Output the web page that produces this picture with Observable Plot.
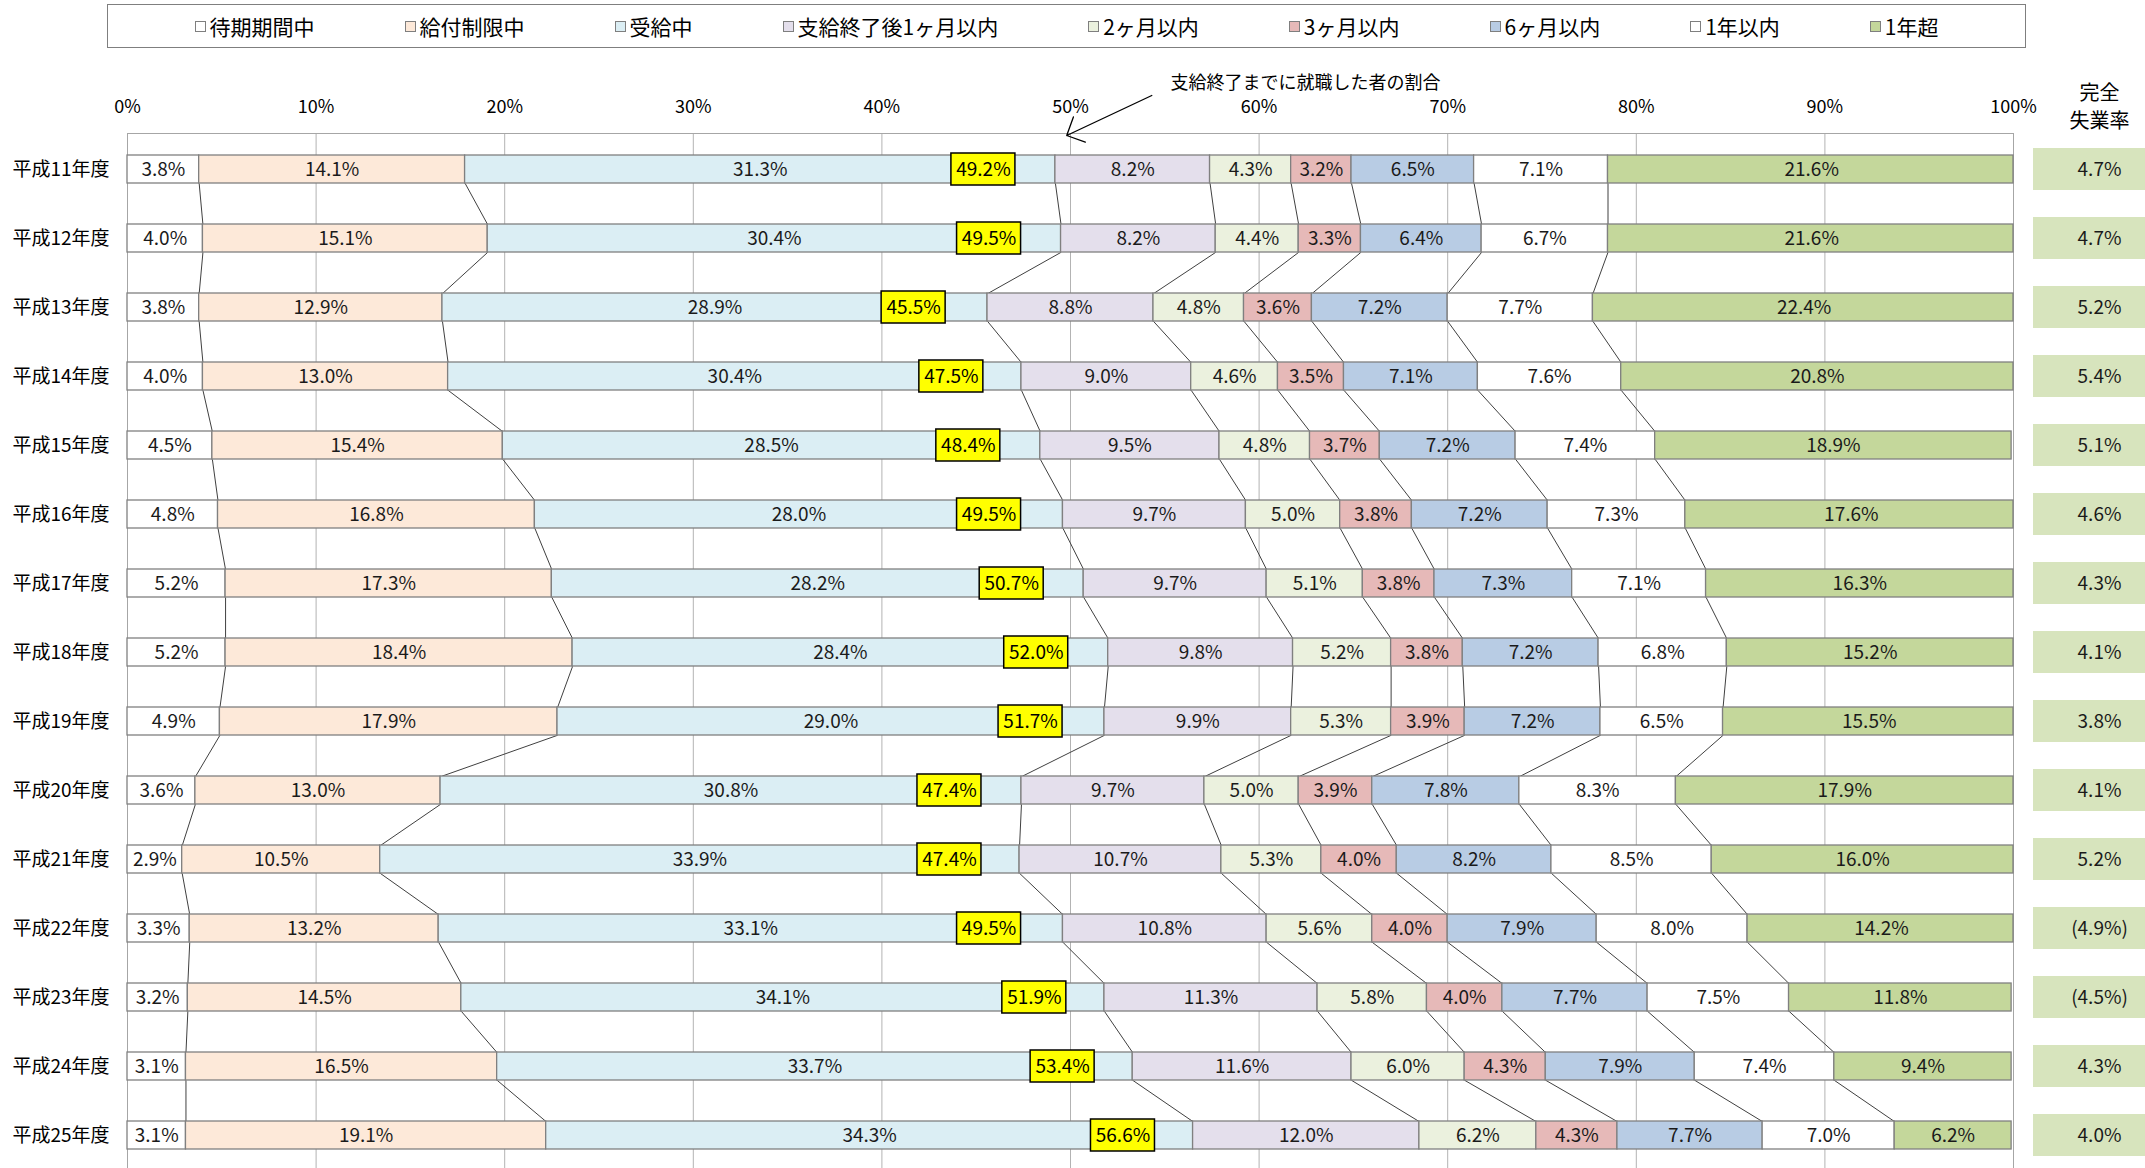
<!DOCTYPE html>
<html>
<head>
<meta charset="utf-8">
<script src="https://cdn.jsdelivr.net/npm/d3@7"></script>
<script src="https://cdn.jsdelivr.net/npm/@observablehq/plot@0.6"></script>
<style>
  html, body { margin: 0; padding: 0; background: #fff; overflow: hidden; }
  body { width: 2145px; height: 1168px; font-family: "Noto Sans CJK JP", sans-serif; color: #000; }
  #legendWrap { position: relative; height: 58px; }
  #legend { position: absolute; left: 107px; top: 4px; width: 1919px; height: 44px; box-sizing: border-box;
            border: 1.5px solid #7f7f7f; display: flex; justify-content: center; align-items: center;
            gap: 90px; font-size: 21px; }
  .item { display: flex; align-items: center; white-space: nowrap; }
  .sw { width: 9px; height: 9px; border: 1px solid #7f7f7f; margin-right: 4px; }
  #chart svg { display: block; }
</style>
</head>
<body>
<div id="legendWrap"><div id="legend"></div></div>
<div id="chart"></div>
<script>
// ---- data ----
const years = ["平成11年度","平成12年度","平成13年度","平成14年度","平成15年度","平成16年度","平成17年度","平成18年度",
               "平成19年度","平成20年度","平成21年度","平成22年度","平成23年度","平成24年度","平成25年度"];
const categories = ["待期期間中","給付制限中","受給中","支給終了後1ヶ月以内","2ヶ月以内","3ヶ月以内","6ヶ月以内","1年以内","1年超"];
const colors = ["#ffffff","#fde9d9","#dbeef4","#e4dfec","#ebf1de","#e6b9b8","#b8cce4","#ffffff","#c4d79b"];

const waiting   = [3.8,4.0,3.8,4.0,4.5,4.8,5.2,5.2,4.9,3.6,2.9,3.3,3.2,3.1,3.1];
const restrict  = [14.1,15.1,12.9,13.0,15.4,16.8,17.3,18.4,17.9,13.0,10.5,13.2,14.5,16.5,19.1];
const receiving = [31.3,30.4,28.9,30.4,28.5,28.0,28.2,28.4,29.0,30.8,33.9,33.1,34.1,33.7,34.3];
const within1m  = [8.2,8.2,8.8,9.0,9.5,9.7,9.7,9.8,9.9,9.7,10.7,10.8,11.3,11.6,12.0];
const within2m  = [4.3,4.4,4.8,4.6,4.8,5.0,5.1,5.2,5.3,5.0,5.3,5.6,5.8,6.0,6.2];
const within3m  = [3.2,3.3,3.6,3.5,3.7,3.8,3.8,3.8,3.9,3.9,4.0,4.0,4.0,4.3,4.3];
const within6m  = [6.5,6.4,7.2,7.1,7.2,7.2,7.3,7.2,7.2,7.8,8.2,7.9,7.7,7.9,7.7];
const within1y  = [7.1,6.7,7.7,7.6,7.4,7.3,7.1,6.8,6.5,8.3,8.5,8.0,7.5,7.4,7.0];
const over1y    = [21.6,21.6,22.4,20.8,18.9,17.6,16.3,15.2,15.5,17.9,16.0,14.2,11.8,9.4,6.2];
const employedByEnd = [49.2,49.5,45.5,47.5,48.4,49.5,50.7,52.0,51.7,47.4,47.4,49.5,51.9,53.4,56.6];
const unemployment  = [4.7,4.7,5.2,5.4,5.1,4.6,4.3,4.1,3.8,4.1,5.2,4.9,4.5,4.3,4.0];
const unemploymentRef = [false,false,false,false,false,false,false,false,false,false,false,true,true,false,false];
const xTicks = [0,10,20,30,40,50,60,70,80,90,100];
const annotationText = "支給終了までに就職した者の割合";
const rateHeader = "完全\n失業率";

const series = [waiting, restrict, receiving, within1m, within2m, within3m, within6m, within1y, over1y];

// ---- tables ----
const table = [];
years.forEach((y, i) => categories.forEach((c, k) => table.push({year: y, category: c, value: series[k][i]})));

const cum = years.map((y, i) => { let s = 0; return series.map(v => (s += v[i])); });
const links = [];
for (let i = 0; i < years.length - 1; i++)
  for (let k = 0; k < categories.length - 1; k++)
    links.push({y1: years[i], y2: years[i + 1], x1: cum[i][k], x2: cum[i + 1][k]});

const employed = years.map((y, i) => ({year: y, value: employedByEnd[i]}));
const rates = years.map((y, i) => ({year: y, label: unemploymentRef[i] ? `(${unemployment[i].toFixed(1)}%)` : `${unemployment[i].toFixed(1)}%`}));

// ---- legend ----
const legend = document.getElementById("legend");
categories.forEach((c, k) => {
  const it = document.createElement("div"); it.className = "item";
  const sw = document.createElement("span"); sw.className = "sw"; sw.style.background = colors[k];
  const tx = document.createElement("span"); tx.textContent = c;
  it.append(sw, tx); legend.append(it);
});

// ---- layout ----
const W = 2145, H = 1112, mTop = 75, mLeft = 127, mRight = 132, padIn = 0.6;
const step = (H - mTop) / years.length;
const half = step * (1 - padIn) / 2;

// series-line curve: from the bottom edge of the upper bar to the top edge of the lower bar
const seriesCurve = (ctx) => {
  let n = 0;
  return {
    areaStart() {}, areaEnd() {},
    lineStart() { n = 0; },
    lineEnd() {},
    point(x, y) { if (n++ === 0) ctx.moveTo(x, y + half); else ctx.lineTo(x, y - half); }
  };
};

const chart = Plot.plot({
  width: W, height: H,
  marginTop: mTop, marginLeft: mLeft, marginRight: mRight, marginBottom: 0,
  style: {fontFamily: "'Noto Sans CJK JP', sans-serif", fontSize: "19px", color: "#000", background: "#fff", overflow: "visible"},
  x: {domain: [0, 100], clamp: true, axis: null},
  y: {domain: years, paddingInner: padIn, paddingOuter: padIn / 2, axis: null},
  color: {domain: categories, range: colors},
  marks: [
    Plot.gridX(xTicks, {stroke: "#b3b3b3", strokeOpacity: 1}),
    Plot.frame({stroke: "#a6a6a6"}),
    Plot.axisX(xTicks, {anchor: "top", tickSize: 0, tickPadding: 21, tickFormat: d => d + "%", fontSize: 18}),
    Plot.axisY({tickSize: 0, tickPadding: 18, fontSize: 19}),
    Plot.link(links, {x1: "x1", x2: "x2", y1: "y1", y2: "y2", curve: seriesCurve, stroke: "#404040", strokeWidth: 1}),
    Plot.barX(table, Plot.stackX({x: "value", y: "year", fill: "category", stroke: "#808080", strokeWidth: 1.3})),
    Plot.text(table, Plot.stackX({x: "value", y: "year", z: "category", text: d => d.value.toFixed(1) + "%", fill: "#1a1a1a"})),
    Plot.barX(employed, {x1: "value", x2: "value", y: "year", insetLeft: -104, insetRight: 40, insetTop: -2, insetBottom: -2,
                         fill: "#ffff00", stroke: "#000", strokeWidth: 1.5}),
    Plot.text(employed, {x: "value", y: "year", dx: -72, text: d => d.value.toFixed(1) + "%", fill: "#000"}),
    Plot.barX(rates, {x1: () => 100, x2: () => 100, y: "year", insetLeft: 20, insetRight: -132, insetTop: -7, insetBottom: -7, fill: "#d7e4bd"}),
    Plot.text(rates, {x: () => 100, y: "year", dx: 86, text: "label", fill: "#1a1a1a"}),
    Plot.text([rateHeader], {x: () => 100, frameAnchor: "top", dx: 86, dy: -6, lineAnchor: "bottom", lineHeight: 1.4, fontSize: 20, text: d => d}),
    Plot.text([annotationText], {x: () => 62.46, frameAnchor: "top", dy: -57, text: d => d, fontSize: 18}),
    Plot.vector([annotationText], {x: () => 49.8, frameAnchor: "top", dy: 2, length: 94, rotate: 244.8, anchor: "end", r: 2.6, stroke: "#000", strokeWidth: 1.3})
  ]
});
document.getElementById("chart").append(chart);
</script>
</body>
</html>
